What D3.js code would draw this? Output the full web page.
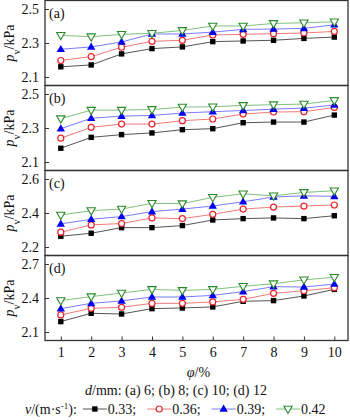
<!DOCTYPE html>
<html>
<head>
<meta charset="utf-8">
<script src="https://cdn.jsdelivr.net/npm/d3@7"></script>
<style>
  body { margin: 0; background: #fff; }
  svg text { font-family: "Liberation Serif", "Times New Roman", serif; fill: #111; }
</style>
</head>
<body>
<div id="chart"></div>
<script>
// phi (%) on the x axis
const phi = [1, 2, 3, 4, 5, 6, 7, 8, 9, 10];
const speeds = ["0.33", "0.36", "0.39", "0.42"];
const panelLabels = ["(a)", "(b)", "(c)", "(d)"];

// p_v values, one array per speed, per panel
const panelA = [
  [2.160, 2.171, 2.236, 2.267, 2.277, 2.308, 2.312, 2.316, 2.327, 2.335],
  [2.197, 2.220, 2.275, 2.310, 2.316, 2.347, 2.351, 2.355, 2.359, 2.368],
  [2.263, 2.277, 2.306, 2.353, 2.353, 2.364, 2.380, 2.382, 2.386, 2.407],
  [2.345, 2.337, 2.351, 2.357, 2.374, 2.400, 2.400, 2.415, 2.419, 2.425]
];
const panelB = [
  [2.181, 2.245, 2.261, 2.271, 2.290, 2.296, 2.331, 2.335, 2.335, 2.376],
  [2.240, 2.304, 2.323, 2.323, 2.343, 2.353, 2.382, 2.394, 2.396, 2.421],
  [2.296, 2.357, 2.370, 2.374, 2.388, 2.396, 2.403, 2.411, 2.417, 2.435],
  [2.355, 2.405, 2.405, 2.409, 2.423, 2.425, 2.433, 2.437, 2.441, 2.462]
];
const panelC = [
  [2.263, 2.281, 2.314, 2.314, 2.326, 2.359, 2.367, 2.371, 2.367, 2.384],
  [2.287, 2.330, 2.338, 2.371, 2.367, 2.392, 2.423, 2.435, 2.441, 2.447],
  [2.336, 2.363, 2.379, 2.408, 2.423, 2.441, 2.466, 2.494, 2.501, 2.498],
  [2.388, 2.414, 2.423, 2.457, 2.455, 2.492, 2.513, 2.501, 2.521, 2.531]
];
const panelD = [
  [2.192, 2.265, 2.259, 2.306, 2.312, 2.321, 2.371, 2.377, 2.418, 2.476],
  [2.251, 2.309, 2.318, 2.353, 2.353, 2.365, 2.388, 2.441, 2.464, 2.491],
  [2.306, 2.353, 2.374, 2.409, 2.409, 2.423, 2.456, 2.500, 2.497, 2.523],
  [2.377, 2.412, 2.444, 2.476, 2.467, 2.476, 2.503, 2.526, 2.560, 2.583]
];
const yTicks = [[2.1, 2.3, 2.5], [2.1, 2.3, 2.5], [2.2, 2.4, 2.6], [2.1, 2.4, 2.7]];
const yDomains = [[2.05, 2.55], [2.05, 2.55], [2.15, 2.65], [2.025, 2.775]];
const xTicks = [1, 2, 3, 4, 5, 6, 7, 8, 9, 10];

const panels = [panelA, panelB, panelC, panelD];

const width = 350, height = 420;
const left = 45, right = 348, panelH = 85, top0 = 0.5;

const markerColors = ["#000000", "#e8262c", "#0000ee", "#2a8a2a"];
const lineColors = ["#555555", "#f07a7a", "#7a7aff", "#7fc07f"];

const svg = d3.select("#chart").append("svg")
  .attr("width", width)
  .attr("height", height);

const x = d3.scaleLinear().domain([0.48, 10.45]).range([left, right]);

function drawMarker(g, k, cx, cy) {
  if (k === 0) {
    g.append("rect").attr("x", cx - 2.7).attr("y", cy - 2.7)
      .attr("width", 5.4).attr("height", 5.4).attr("fill", markerColors[0]);
  } else if (k === 1) {
    g.append("circle").attr("cx", cx).attr("cy", cy).attr("r", 3)
      .attr("fill", "#fff").attr("stroke", markerColors[1]).attr("stroke-width", 1.2);
  } else if (k === 2) {
    g.append("path").attr("d", d3.symbol(d3.symbolTriangle, 30)())
      .attr("transform", "translate(" + cx + "," + (cy + 0.4) + ")")
      .attr("fill", markerColors[2]);
  } else {
    g.append("path").attr("d", d3.symbol(d3.symbolTriangle, 30)())
      .attr("transform", "translate(" + cx + "," + (cy - 0.4) + ") rotate(180)")
      .attr("fill", "#fff").attr("stroke", markerColors[3]).attr("stroke-width", 1.1);
  }
}

panels.forEach((series, p) => {
  const top = top0 + p * panelH;
  const y = d3.scaleLinear().domain(yDomains[p]).range([top + panelH, top]);
  const g = svg.append("g");

  // y axis, inward ticks
  const yAxis = g.append("g")
    .attr("transform", "translate(" + left + ",0)")
    .call(d3.axisLeft(y).tickValues(yTicks[p]).tickFormat(d3.format(".1f"))
      .tickSizeInner(-4).tickSizeOuter(0).tickPadding(6));
  yAxis.select(".domain").remove();
  yAxis.selectAll("line").attr("stroke", "#333");
  yAxis.selectAll("text").style("font-size", "14px")
    .style("font-family", "'Liberation Serif', serif").attr("fill", "#111");

  if (p === 3) {
    const xAxis = g.append("g")
      .attr("transform", "translate(0," + (top + panelH) + ")")
      .call(d3.axisBottom(x).tickValues(xTicks).tickFormat(d3.format("d"))
        .tickSizeInner(-4).tickSizeOuter(0).tickPadding(7));
    xAxis.select(".domain").remove();
    xAxis.selectAll("line").attr("stroke", "#333");
    xAxis.selectAll("text").style("font-size", "14px")
      .style("font-family", "'Liberation Serif', serif").attr("fill", "#111");
  }

  // frame
  g.append("rect")
    .attr("x", left).attr("y", top)
    .attr("width", right - left).attr("height", panelH)
    .attr("fill", "none").attr("stroke", "#333").attr("stroke-width", 1.3);

  // lines and markers
  const line = d3.line().x((d, i) => x(phi[i])).y(d => y(d));
  series.forEach((vals, k) => {
    g.append("path").datum(vals)
      .attr("d", line)
      .attr("fill", "none")
      .attr("stroke", lineColors[k])
      .attr("stroke-width", 1);
  });
  series.forEach((vals, k) => {
    const mg = g.append("g");
    vals.forEach((v, i) => drawMarker(mg, k, x(phi[i]), y(v)));
  });

  // panel letter
  g.append("text")
    .attr("x", left + 4).attr("y", top + 17)
    .style("font-size", "14px")
    .text(panelLabels[p]);

  // y label
  const yl = g.append("text")
    .attr("transform", "translate(14," + (top + panelH / 2) + ") rotate(-90)")
    .attr("text-anchor", "middle")
    .style("font-size", "14px");
  yl.append("tspan").style("font-style", "italic").text("p");
  yl.append("tspan").attr("baseline-shift", "sub").style("font-size", "10px").text("v");
  yl.append("tspan").text("/kPa");
});

// x axis title
const xt = svg.append("text")
  .attr("x", (left + right) / 2 + 2).attr("y", 377)
  .attr("text-anchor", "middle").style("font-size", "14px");
xt.append("tspan").style("font-style", "italic").text("φ");
xt.append("tspan").text("/%");

// diameter note
const dn = svg.append("text")
  .attr("x", 176).attr("y", 395)
  .attr("text-anchor", "middle").style("font-size", "14px");
dn.append("tspan").style("font-style", "italic").text("d");
dn.append("tspan").text("/mm: (a) 6; (b) 8; (c) 10; (d) 12");

// legend
const leg = svg.append("g");
const lt = leg.append("text").attr("x", 25).attr("y", 414).style("font-size", "14px");
lt.append("tspan").style("font-style", "italic").text("v");
lt.append("tspan").text("/(m·s");
lt.append("tspan").attr("baseline-shift", "super").style("font-size", "9px").text("-1");
lt.append("tspan").text("): ");
let cursor = 25 + lt.node().getComputedTextLength() + 6;
speeds.forEach((s, k) => {
  const ly = 409;
  leg.append("line")
    .attr("x1", cursor).attr("x2", cursor + 24)
    .attr("y1", ly).attr("y2", ly)
    .attr("stroke", lineColors[k]).attr("stroke-width", 1);
  drawMarker(leg, k, cursor + 12, ly);
  const t = leg.append("text").attr("x", cursor + 25).attr("y", 414)
    .style("font-size", "14px")
    .text(s + (k < speeds.length - 1 ? ";" : ""));
  cursor += 25 + t.node().getComputedTextLength() + 11;
});
</script>
</body>
</html>
